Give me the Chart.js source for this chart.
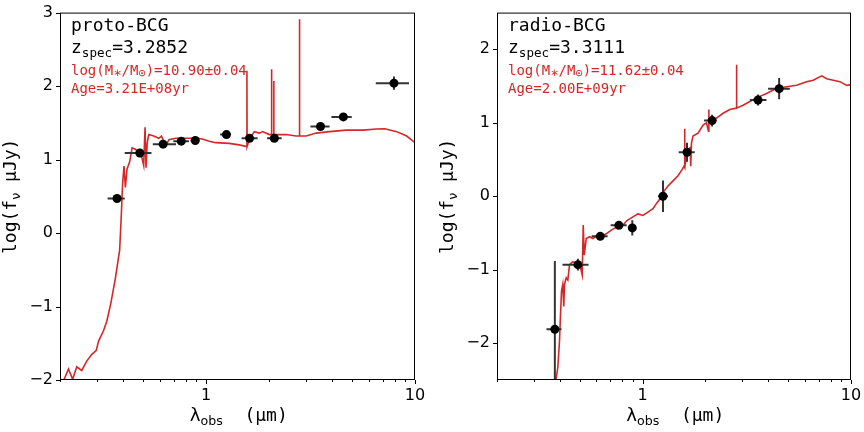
<!DOCTYPE html>
<html>
<head>
<meta charset="utf-8">
<script src="https://cdn.jsdelivr.net/npm/chart.js@4.4.0/dist/chart.umd.min.js"></script>
<style>
body{margin:0;background:#fff;}
#wrap{position:relative;width:864px;height:432px;}
.pan{position:absolute;top:0;width:432px;height:432px;}
</style>
</head>
<body>
<div id="wrap">
<div class="pan" style="left:0"><canvas id="left" width="432" height="432"></canvas></div>
<div class="pan" style="left:432px"><canvas id="right" width="432" height="432"></canvas></div>
</div>
<script>
// x ticks (log axis), only 1 and 10 get a label
const xTickVals = [0.2,0.3,0.4,0.5,0.6,0.7,0.8,0.9,1,2,3,4,5,6,7,8,9,10];

// ---- proto-BCG ----
const obsWaveL = [0.375,0.482,0.623,0.761,0.888,1.252,1.615,2.123,3.53,4.54,7.93];
const obsFluxL = [0.47,1.09,1.21,1.25,1.26,1.34,1.29,1.29,1.45,1.58,2.04];
const obsXloL  = [0.338,0.408,0.556,0.697,0.844,1.168,1.479,1.959,3.16,3.98,6.49];
const obsXhiL  = [0.408,0.548,0.718,0.828,0.926,1.314,1.765,2.30,3.90,4.98,9.36];
const obsYerrL = [0.02,0.02,0.02,0.02,0.02,0.02,0.02,0.02,0.02,0.02,0.09];

const modelWaveL = [0.200,0.208,0.2195,0.230,0.2405,0.254,0.269,0.284,0.298,0.306,0.323,0.335,0.3505,0.368,0.386,
  0.3935,0.399,0.405,0.411,0.4185,0.431,0.4425,0.459,0.476,0.494,0.503,0.5106,0.516,0.523,0.532,0.562,0.594,0.612,
  0.640,0.664,0.715,0.799,0.892,0.960,1.034,1.113,1.290,1.441,1.552,1.566,1.569,1.572,1.609,1.702,1.798,1.865,2.009,
  2.055,2.058,2.062,2.106,2.109,2.113,2.163,2.416,2.698,2.795,2.80,2.805,3.015,3.367,3.90,4.69,5.64,6.54,7.17,8.17,9.12,10.0];
const modelFluxL = [-1.99,-2.01,-1.85,-1.99,-1.82,-1.87,-1.74,-1.65,-1.60,-1.47,-1.33,-1.20,-0.95,-0.62,-0.23,
  0.28,0.69,0.91,0.62,0.87,0.97,1.16,1.14,1.09,1.02,0.92,1.44,0.89,1.23,1.34,1.32,1.29,1.32,
  1.18,1.27,1.29,1.29,1.29,1.28,1.25,1.23,1.22,1.20,1.18,1.18,2.21,1.18,1.27,1.38,1.36,1.38,1.34,
  1.34,2.23,1.34,1.34,2.07,1.34,1.34,1.34,1.32,1.32,2.91,1.32,1.32,1.36,1.38,1.40,1.40,1.415,1.42,1.38,1.32,1.23];

// ---- radio-BCG ----
const obsWaveR = [0.379,0.489,0.626,0.769,0.892,1.252,1.633,2.154,3.58,4.52];
const obsFluxR = [-1.81,-0.93,-0.545,-0.395,-0.43,0.0,0.60,1.03,1.31,1.465];
const obsXloR  = [0.3455,0.4124,0.569,0.702,0.85,1.185,1.49,1.971,3.27,4.0];
const obsXhiR  = [0.408,0.55,0.679,0.838,0.93,1.323,1.778,2.262,3.93,5.09];
const obsYerrR = [0.93,0.08,0.03,0.03,0.105,0.215,0.13,0.08,0.075,0.145];

const modelWaveR = [0.382,0.3916,0.399,0.4035,0.408,0.4137,0.4183,0.4217,0.4297,0.4375,0.4457,0.4623,0.480,0.4979,
  0.5129,0.5187,0.5244,0.5361,0.5561,0.5769,0.6096,0.6329,0.6689,0.7070,0.7475,0.8040,0.8405,0.8983,0.9493,1.003,
  1.060,1.121,1.164,1.207,1.252,1.323,1.399,1.478,1.552,1.580,1.590,1.595,1.622,1.651,1.690,1.702,1.715,1.745,1.845,
  1.950,2.024,2.070,2.076,2.082,2.139,2.262,2.433,2.620,2.815,2.822,2.829,3.035,3.269,3.652,3.933,4.394,4.909,5.483,
  6.124,6.589,7.230,7.643,8.221,8.854,9.535,10.0];
const modelFluxR = [-2.53,-2.33,-1.97,-1.61,-1.29,-1.20,-1.50,-1.20,-1.11,-1.14,-0.93,-0.89,-0.91,-0.91,
  -1.07,-0.39,-0.80,-0.575,-0.55,-0.575,-0.53,-0.55,-0.51,-0.46,-0.42,-0.395,-0.33,-0.28,-0.24,-0.26,
  -0.215,-0.17,-0.10,-0.04,0.05,0.14,0.21,0.28,0.37,0.41,0.92,0.39,0.55,0.64,0.66,0.41,0.72,0.82,0.86,
  0.97,1.00,0.885,1.18,1.00,1.02,1.065,1.13,1.18,1.20,1.79,1.20,1.24,1.29,1.36,1.40,1.47,1.49,1.51,
  1.56,1.58,1.64,1.60,1.58,1.56,1.51,1.52];

const RED = '#d62728';
const MONO = '"DejaVu Sans Mono", monospace';
const SANS = '"DejaVu Sans", sans-serif';

// pieces: [text, size, dy, font]
function piecesWidth(ctx, pieces) {
  let w = 0;
  pieces.forEach(p => { ctx.font = p[1] + 'px ' + (p[3] || MONO); w += ctx.measureText(p[0]).width; });
  return w;
}
function drawPieces(ctx, x, y, pieces) {
  pieces.forEach(p => {
    ctx.font = p[1] + 'px ' + (p[3] || MONO);
    ctx.fillText(p[0], x, y + p[2]);
    x += ctx.measureText(p[0]).width;
  });
}

const sedPlugin = {
  id: 'sed',
  afterDatasetDraw(chart, args, opts) {
    if (args.index !== 1) return;   // right after the model line
    const xs = chart.scales.x, ys = chart.scales.y, a = chart.chartArea, ctx = chart.ctx;
    ctx.save();
    ctx.beginPath(); ctx.rect(a.left, a.top, a.right - a.left, a.bottom - a.top); ctx.clip();
    ctx.strokeStyle = '#333'; ctx.lineWidth = 2;
    opts.wave.forEach((w, i) => {
      const px = xs.getPixelForValue(w), py = ys.getPixelForValue(opts.flux[i]);
      ctx.beginPath();
      ctx.moveTo(xs.getPixelForValue(opts.xlo[i]), py);
      ctx.lineTo(xs.getPixelForValue(opts.xhi[i]), py);
      ctx.moveTo(px, ys.getPixelForValue(opts.flux[i] - opts.yerr[i]));
      ctx.lineTo(px, ys.getPixelForValue(opts.flux[i] + opts.yerr[i]));
      ctx.stroke();
    });
    ctx.restore();
  },
  afterDraw(chart, args, opts) {
    const xs = chart.scales.x, ys = chart.scales.y, a = chart.chartArea, ctx = chart.ctx;
    ctx.save();
    // box + tick marks
    ctx.strokeStyle = '#000'; ctx.lineWidth = 1;
    ctx.strokeRect(a.left + 0.5, a.top + 0.5, a.right - a.left - 1, a.bottom - a.top - 1);
    ctx.beginPath();
    xTickVals.forEach(v => {
      const p = Math.round(xs.getPixelForValue(v)) + 0.5;
      const len = (v === 1 || v === 10) ? 4 : 2;
      ctx.moveTo(p, a.bottom); ctx.lineTo(p, a.bottom + len);
    });
    ys.ticks.forEach(t => {
      const p = Math.round(ys.getPixelForValue(t.value)) + 0.5;
      ctx.moveTo(a.left, p); ctx.lineTo(a.left - 4, p);
    });
    ctx.stroke();

    // labels inside the panel
    ctx.textBaseline = 'alphabetic';
    ctx.textAlign = 'left';
    ctx.fillStyle = '#000';
    const tx = a.left + 11;
    drawPieces(ctx, tx, 31, [[opts.name, 18, 0]]);
    drawPieces(ctx, tx, 53, [['z', 18, 0], ['spec', 12.6, 4], ['=' + opts.z, 18, 0]]);
    ctx.fillStyle = RED;
    drawPieces(ctx, tx, 75, [['log(M', 14, 0], ['\u2217', 14, 2], ['/M', 14, 0], ['\u2299', 12, 2], [')=' + opts.mass, 14, 0]]);
    drawPieces(ctx, tx, 93, [['Age=' + opts.age, 14, 0]]);

    // axis titles
    ctx.fillStyle = '#000';
    const xt = [['\u03bb', 18, 0, 'italic ' + SANS], ['obs', 12.6, 4, SANS], ['  (', 18, 0], ['\u03bc', 18, 0, 'italic ' + SANS], ['m)', 18, 0]];
    const xw = piecesWidth(ctx, xt);
    drawPieces(ctx, (a.left + a.right) / 2 - xw / 2, 421, xt);

    const yt = [['log(f', 18, 0], ['\u03bd', 12.6, 4, SANS], [' ', 18, 0], ['\u03bc', 18, 0, 'italic ' + SANS], ['Jy)', 18, 0]];
    const yw = piecesWidth(ctx, yt);
    ctx.translate(a.left - 44, (a.top + a.bottom) / 2);
    ctx.rotate(-Math.PI / 2);
    drawPieces(ctx, -yw / 2, 0, yt);
    ctx.restore();
  }
};

function makeChart(id, p) {
  const obs = p.wave.map((w, i) => ({x: w, y: p.flux[i]}));
  const model = p.mwave.map((w, i) => ({x: w, y: p.mflux[i]}));
  return new Chart(document.getElementById(id), {
    type: 'scatter',
    data: {
      datasets: [
        {label: 'obs', data: obs, pointRadius: 4.5, pointBackgroundColor: '#000', pointBorderWidth: 0, showLine: false},
        {label: 'model', data: model, showLine: true, pointRadius: 0, borderColor: RED, borderWidth: 1.6, fill: false}
      ]
    },
    options: {
      responsive: false,
      animation: false,
      events: [],
      layout: {padding: {top: 9, right: p.padRight, left: 0, bottom: 0}},
      scales: {
        x: {
          type: 'logarithmic', position: 'bottom', min: 0.2, max: 10,
          afterBuildTicks: s => { s.ticks = xTickVals.map(v => ({value: v})); },
          afterFit: s => { s.height = 52; },
          grid: {display: true, drawOnChartArea: false, drawTicks: true, tickLength: 4, color: 'transparent', tickColor: 'transparent'},
          border: {display: false},
          ticks: {autoSkip: false, maxRotation: 0, padding: 2, color: '#000', font: {family: SANS, size: 16},
            callback: v => (v === 1 || v === 10) ? String(v) : ''}
        },
        y: {
          type: 'linear', min: p.ymin, max: p.ymax,
          afterBuildTicks: s => { s.ticks = p.yticks.map(v => ({value: v})); },
          afterFit: s => { s.width = p.axisW; },
          grid: {display: true, drawOnChartArea: false, drawTicks: true, tickLength: 4, color: 'transparent', tickColor: 'transparent'},
          border: {display: false},
          ticks: {padding: 3, color: '#000', font: {family: SANS, size: 16},
            callback: v => v < 0 ? '\u2212' + Math.abs(v) : String(v)}
        }
      },
      plugins: {
        legend: {display: false},
        tooltip: {enabled: false},
        sed: {wave: p.wave, flux: p.flux, xlo: p.xlo, xhi: p.xhi, yerr: p.yerr,
          name: p.name, z: p.z, mass: p.mass, age: p.age}
      }
    },
    plugins: [sedPlugin]
  });
}

makeChart('left', {
  wave: obsWaveL, flux: obsFluxL, xlo: obsXloL, xhi: obsXhiL, yerr: obsYerrL,
  mwave: modelWaveL, mflux: modelFluxL,
  ymin: -2, ymax: 3, yticks: [-2, -1, 0, 1, 2, 3], axisW: 60, padRight: 17,
  name: 'proto-BCG', z: '3.2852', mass: '10.90\u00b10.04', age: '3.21E+08yr'
});
makeChart('right', {
  wave: obsWaveR, flux: obsFluxR, xlo: obsXloR, xhi: obsXhiR, yerr: obsYerrR,
  mwave: modelWaveR, mflux: modelFluxR,
  ymin: -2.5, ymax: 2.5, yticks: [-2, -1, 0, 1, 2], axisW: 65, padRight: 13,
  name: 'radio-BCG', z: '3.3111', mass: '11.62\u00b10.04', age: '2.00E+09yr'
});
</script>
</body>
</html>
